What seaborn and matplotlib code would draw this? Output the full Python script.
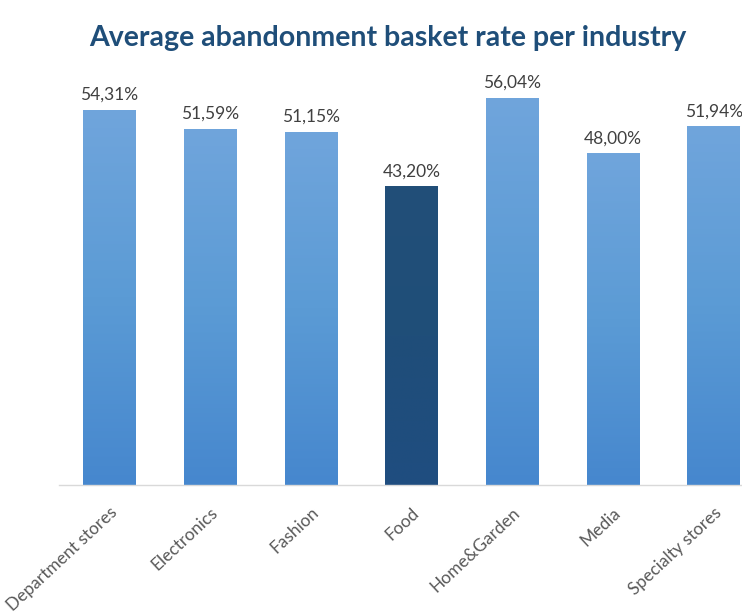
import numpy as np
import pandas as pd
import matplotlib
matplotlib.use("Agg")
import matplotlib.pyplot as plt
from matplotlib.colors import LinearSegmentedColormap
import seaborn as sns

industries = ["Department stores", "Electronics", "Fashion", "Food",
              "Home&Garden", "Media", "Specialty stores"]
rates = [54.31, 51.59, 51.15, 43.20, 56.04, 48.00, 51.94]
highlight = "Food"

df = pd.DataFrame({"industry": industries, "rate": rates})

sns.set_theme(style="white")
plt.rcParams["font.family"] = ["Lato", "DejaVu Sans"]

fig = plt.figure(figsize=(7.42, 6.14), dpi=100)
ax = fig.add_axes([59 / 742, 129 / 614, 705 / 742, 414.6 / 614])

palette = {name: ("#1F4E79" if name == highlight else "#5B9BD5") for name in industries}
sns.barplot(data=df, x="industry", y="rate", hue="industry", palette=palette,
            width=0.52, legend=False, ax=ax, saturation=1)

ax.set_xlim(-0.5, 6.5)
ax.set_ylim(0, 60)

# vertical gradient fill for each bar (lighter at top)
light = LinearSegmentedColormap.from_list("light", ["#4687CE", "#5B9BD5", "#70A5DC"])
dark = LinearSegmentedColormap.from_list("dark", ["#1F4D80", "#1F4E79", "#224F78"])
grad = np.linspace(0, 1, 256).reshape(-1, 1)
for patch, name in zip(ax.patches, industries):
    x0, y0 = patch.get_x(), patch.get_y()
    w, h = patch.get_width(), patch.get_height()
    cmap = dark if name == highlight else light
    im = ax.imshow(grad, cmap=cmap, origin="lower", aspect="auto",
                   extent=[x0, x0 + w, y0, y0 + h], zorder=patch.get_zorder() + 0.1)
    im.set_clip_path(patch)

for patch, val in zip(ax.patches, rates):
    ax.annotate(f"{val:.2f}%".replace(".", ","),
                (patch.get_x() + patch.get_width() / 2, val),
                xytext=(0, 5), textcoords="offset points",
                ha="center", va="bottom", fontsize=12.5, color="#404040")

ax.set_xlabel("")
ax.set_ylabel("")
ax.set_yticks([])
ax.tick_params(axis="x", length=0, pad=14)
for lab in ax.get_xticklabels():
    lab.set_rotation(43)
    lab.set_ha("right")
    lab.set_rotation_mode("anchor")
    lab.set_fontsize(12.5)
    lab.set_color("#595959")

for side in ["top", "right", "left"]:
    ax.spines[side].set_visible(False)
ax.spines["bottom"].set_color("#D9D9D9")
ax.spines["bottom"].set_linewidth(1.0)

fig.text(388 / 742, 1 - 38 / 614, "Average abandonment basket rate per industry",
         ha="center", va="center", fontsize=20.5, fontweight="bold", color="#1F4E79")

fig.savefig("out.png", dpi=100, facecolor="white")
